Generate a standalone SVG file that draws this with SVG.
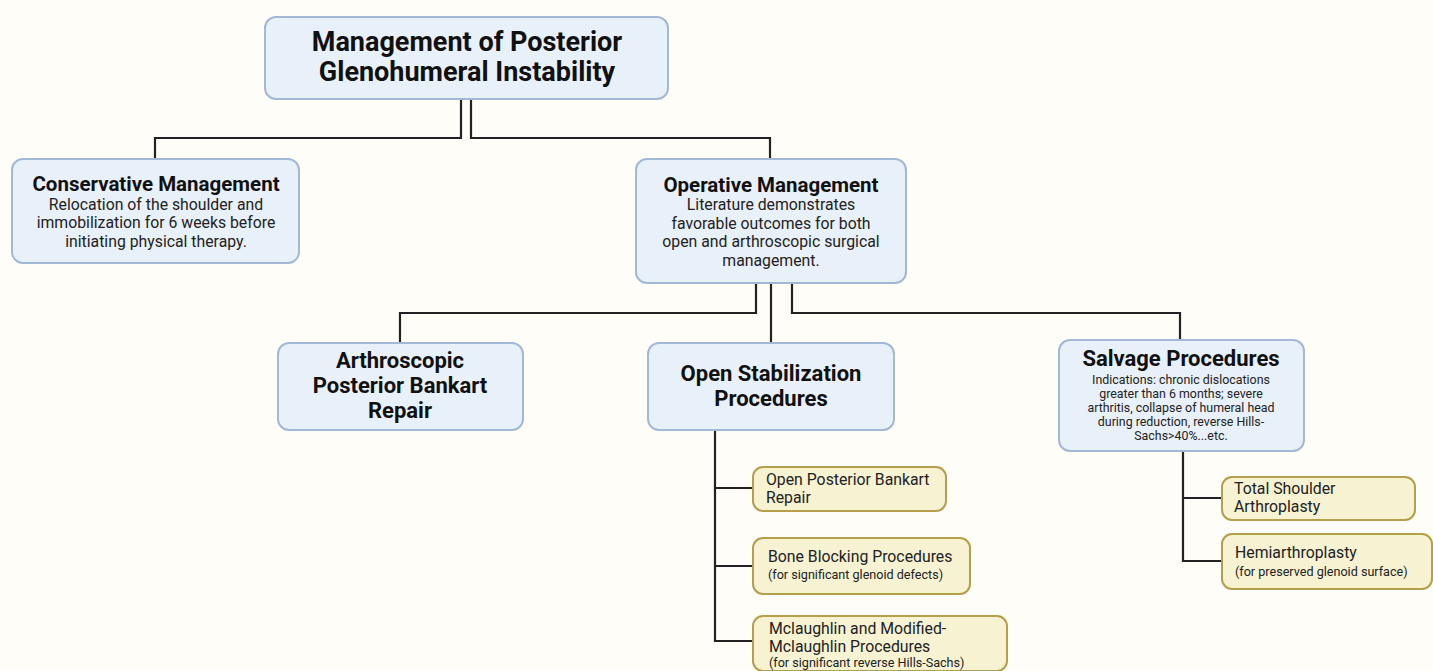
<svg xmlns="http://www.w3.org/2000/svg" width="1433" height="671" viewBox="0 0 1433 671">
<style>
.bg{fill:#FEFDF8}
.blue{fill:#E8F0FA;stroke:#A3B8D4;stroke-width:2}
.yel{fill:#F6F2D2;stroke:#B59F4A;stroke-width:2}
.line{fill:none;stroke:#222;stroke-width:2.2}
text{font-family:Roboto,"Liberation Sans",sans-serif;fill:#111}
.h1{font-size:27px;font-weight:bold;text-anchor:middle}
.h2{font-size:20.5px;font-weight:bold;text-anchor:middle}
.h3{font-size:22px;font-weight:bold;text-anchor:middle}
.b{font-size:15.8px;text-anchor:middle;fill:#222}
.s{font-size:12.4px;text-anchor:middle;fill:#222}
.y{font-size:15.8px;fill:#222}
.ys{font-size:12.6px;fill:#222}
</style>
<rect class="bg" x="0" y="0" width="1433" height="671"/>
<g id="connectors">
<path class="line" d="M461 99 V138 H155 V159"/>
<path class="line" d="M471 99 V138 H770 V159"/>
<path class="line" d="M756 283 V313 H400 V343"/>
<path class="line" d="M771 283 V343"/>
<path class="line" d="M792 283 V313 H1180 V340"/>
<path class="line" d="M715 430 V641 H753 M715 488 H753 M715 566 H753"/>
<path class="line" d="M1183 451 V561 H1222 M1183 498 H1222"/>
</g>
<g id="title">
<rect class="blue" x="265" y="17" width="403" height="82" rx="11"/>
<text class="h1" x="467" y="51">Management of Posterior</text>
<text class="h1" x="467" y="81">Glenohumeral Instability</text>
</g>
<g id="conservative">
<rect class="blue" x="12" y="159" width="287" height="104" rx="11"/>
<text class="h2" x="156" y="191">Conservative Management</text>
<text class="b" x="156" y="210">Relocation of the shoulder and</text>
<text class="b" x="156" y="228">immobilization for 6 weeks before</text>
<text class="b" x="156" y="247">initiating physical therapy.</text>
</g>
<g id="operative">
<rect class="blue" x="636" y="159" width="270" height="124" rx="11"/>
<text class="h2" x="771" y="192">Operative Management</text>
<text class="b" x="771" y="210">Literature demonstrates</text>
<text class="b" x="771" y="229">favorable outcomes for both</text>
<text class="b" x="771" y="247">open and arthroscopic surgical</text>
<text class="b" x="771" y="266">management.</text>
</g>
<g id="arthroscopic">
<rect class="blue" x="278" y="343" width="245" height="87" rx="11"/>
<text class="h3" x="400" y="368">Arthroscopic</text>
<text class="h3" x="400" y="393">Posterior Bankart</text>
<text class="h3" x="400" y="418">Repair</text>
</g>
<g id="open-stabilization">
<rect class="blue" x="648" y="343" width="246" height="87" rx="11"/>
<text class="h3" x="771" y="381">Open Stabilization</text>
<text class="h3" x="771" y="406">Procedures</text>
</g>
<g id="salvage">
<rect class="blue" x="1059" y="340" width="245" height="111" rx="11"/>
<text class="h3" x="1181" y="366">Salvage Procedures</text>
<text class="s" x="1181" y="384">Indications: chronic dislocations</text>
<text class="s" x="1181" y="398">greater than 6 months; severe</text>
<text class="s" x="1181" y="412">arthritis, collapse of humeral head</text>
<text class="s" x="1181" y="426">during reduction, reverse Hills-</text>
<text class="s" x="1181" y="440">Sachs&gt;40%...etc.</text>
</g>
<g id="open-bankart">
<rect class="yel" x="753" y="467" width="193" height="44" rx="10"/>
<text class="y" x="766" y="485">Open Posterior Bankart</text>
<text class="y" x="766" y="503">Repair</text>
</g>
<g id="bone-blocking">
<rect class="yel" x="753" y="538" width="217" height="56" rx="10"/>
<text class="y" x="768" y="562">Bone Blocking Procedures</text>
<text class="ys" x="768" y="579">(for significant glenoid defects)</text>
</g>
<g id="mclaughlin">
<rect class="yel" x="753" y="616" width="254" height="55" rx="10"/>
<text class="y" x="769" y="634">Mclaughlin and Modified-</text>
<text class="y" x="769" y="652">Mclaughlin Procedures</text>
<text class="ys" x="769" y="667">(for significant reverse Hills-Sachs)</text>
</g>
<g id="total-shoulder">
<rect class="yel" x="1222" y="477" width="193" height="43" rx="10"/>
<text class="y" x="1234" y="494">Total Shoulder</text>
<text class="y" x="1234" y="512">Arthroplasty</text>
</g>
<g id="hemiarthroplasty">
<rect class="yel" x="1222" y="534" width="210" height="55" rx="10"/>
<text class="y" x="1235" y="558">Hemiarthroplasty</text>
<text class="ys" x="1235" y="576">(for preserved glenoid surface)</text>
</g>
</svg>
